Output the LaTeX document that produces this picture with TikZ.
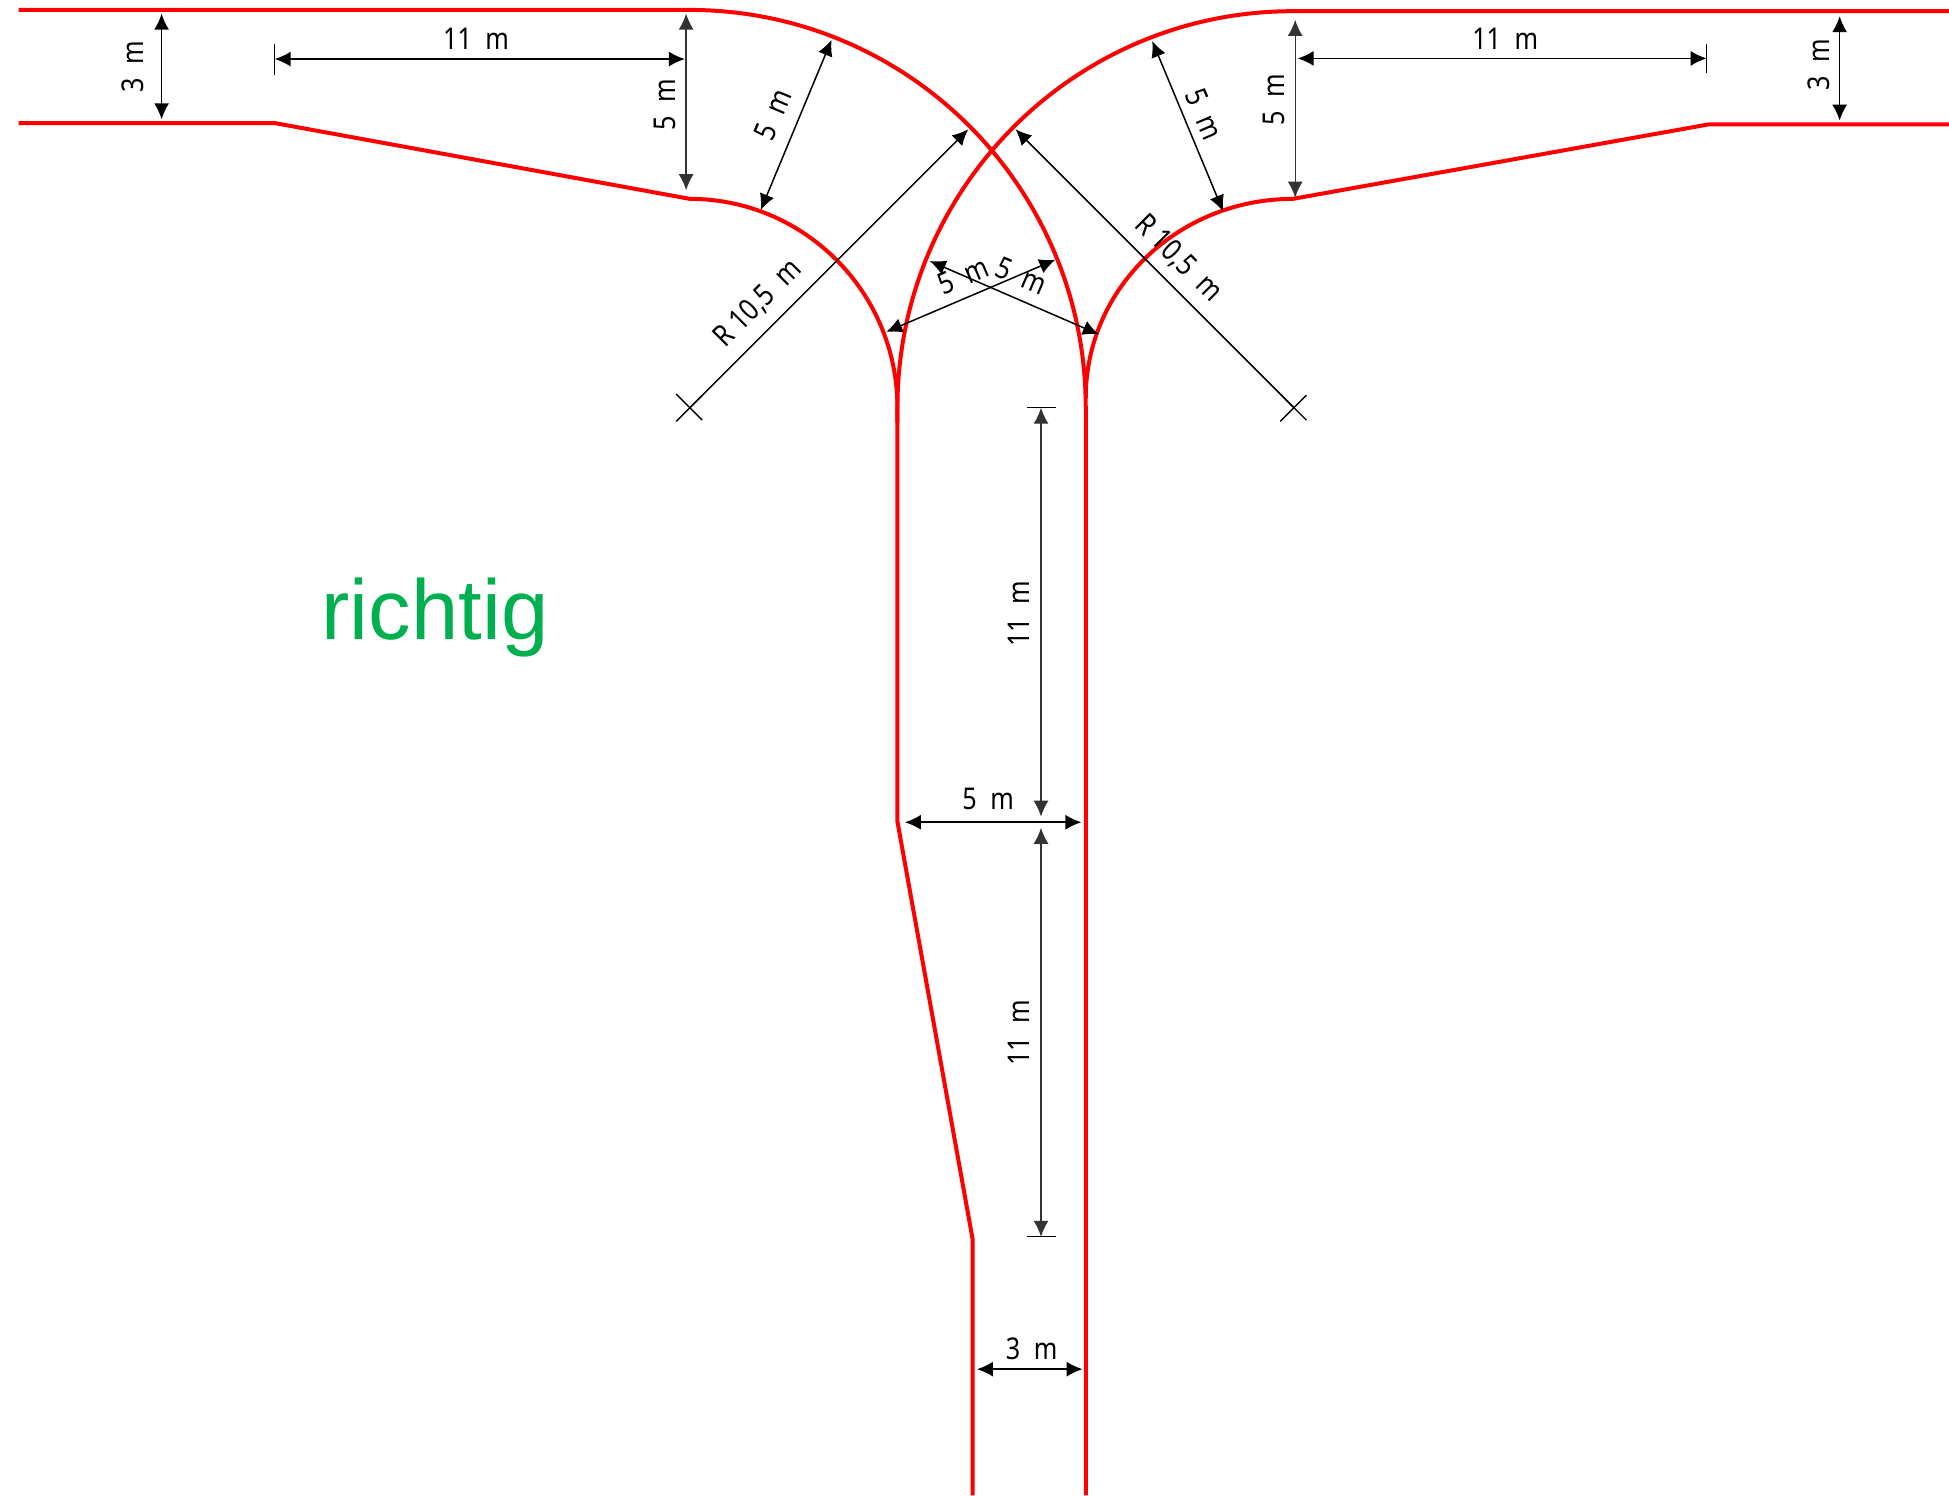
\documentclass[tikz,border=0pt]{standalone}
\usepackage{fontspec}
\setmainfont[FakeStretch=0.84]{Noto Sans}
\newfontfamily\richfont{Liberation Sans}
\usetikzlibrary{arrows.meta}
\definecolor{roadred}{RGB}{255,0,0}
\definecolor{okgreen}{RGB}{0,176,80}
\tikzset{
  x=0.6215pt,y=-0.6215pt,
  road/.style={draw=roadred,line width=2pt,line join=miter},
  dimline/.style={draw=black,line width=0.75pt,{Latex[length=8pt,width=7.5pt]}-{Latex[length=8pt,width=7.5pt]}},
  dimfine/.style={draw=black!80,line width=0.7pt,{Latex[length=8pt,width=7.5pt]}-{Latex[length=8pt,width=7.5pt]}},
  radiusline/.style={draw=black,line width=0.75pt,-{Latex[length=8pt,width=7.5pt]}},
  tick/.style={draw=black,line width=0.7pt},
  dimlabel/.style={inner sep=0pt,font=\fontsize{15}{16}\selectfont},
  verdict/.style={inner sep=0pt,text=okgreen,font=\richfont\fontsize{42.5}{44}\selectfont}
}
\newcommand{\mm}[1]{#1\hspace{0.45em}m}
\begin{document}
\begin{tikzpicture}
\useasboundingbox (0,0) rectangle (1568,1203);
% road edges
\path[road] (15,8) -- (555,8) arc (-90:0:318.5 and 320) -- (873.5,1203);
\path[road] (15,99) -- (221,99) -- (555,160) arc (-90:0:167 and 168) -- (722,661) -- (782.5,997) -- (782.5,1203);
\path[road] (1568,9) -- (1040,9) arc (-90:-180:318 and 319) -- (722,340);
\path[road] (1568,100) -- (1375,100) -- (1040,160) arc (-90:-180:166.5 and 160);
% end points of the dimension lines
\coordinate (a1) at (130,11);   \coordinate (a2) at (130,96);
\coordinate (b1) at (221,47.5); \coordinate (b2) at (551,47.5);
\coordinate (c1) at (552,11);   \coordinate (c2) at (552,153);
\coordinate (d1) at (669,32);   \coordinate (d2) at (612,169);
\coordinate (e1) at (555,328);  \coordinate (e2) at (779,104);
\coordinate (f1) at (1041,328); \coordinate (f2) at (817,104);
\coordinate (g1) at (713,267);  \coordinate (g2) at (849,209);
\coordinate (h1) at (748,210);  \coordinate (h2) at (884,269);
\coordinate (i1) at (927,33);   \coordinate (i2) at (984,170);
\coordinate (j1) at (1042,16);  \coordinate (j2) at (1042,159);
\coordinate (k1) at (1044,47);  \coordinate (k2) at (1373,47);
\coordinate (l1) at (1480,13);  \coordinate (l2) at (1480,97);
\coordinate (m1) at (837.5,328);\coordinate (m2) at (837.5,657);
\coordinate (n1) at (837.5,666);\coordinate (n2) at (837.5,995);
\coordinate (o1) at (728,661.5);\coordinate (o2) at (870,661.5);
\coordinate (p1) at (786,1101.5);\coordinate (p2) at (871,1101.5);
% dimension lines
\draw[dimline] (a1) -- (a2);
\draw[dimline] (b1) -- (b2);
\draw[dimfine] (c1) -- (c2);
\draw[dimline] (d1) -- (d2);
\draw[radiusline] (e1) -- (e2);
\draw[radiusline] (f1) -- (f2);
\draw[dimline] (g1) -- (g2);
\draw[dimline] (h1) -- (h2);
\draw[dimline] (i1) -- (i2);
\draw[dimfine] (j1) -- (j2);
\draw[dimline] (k1) -- (k2);
\draw[dimline] (l1) -- (l2);
\draw[dimfine] (m1) -- (m2);
\draw[dimfine] (n1) -- (n2);
\draw[dimline] (o1) -- (o2);
\draw[dimline] (p1) -- (p2);
% ticks and centre marks
\draw[tick] (b1) ++(0,-12) -- ++(0,25);
\draw[tick] (k2) ++(0,-12) -- ++(0,24);
\draw[tick] (m1) ++(-11,0) -- ++(23,0);
\draw[tick] (n2) ++(-11,0) -- ++(23,0);
\draw[tick] (e1) ++(-11,11) -- ++(21,-21);
\draw[tick] (e1) ++(-11,-11) -- ++(21,21);
\draw[tick] (f1) ++(-11,11) -- ++(21,-21);
\draw[tick] (f1) ++(-11,-11) -- ++(21,21);
% labels
\node[dimlabel,rotate=90] (la) at (107,54) {\mm{3}};
\node[dimlabel] (lb) at (383,31) {\mm{11}};
\node[dimlabel,rotate=90] (lc) at (535,84) {\mm{5}};
\node[dimlabel,rotate=67] (ld) at (622,92) {\mm{5}};
\node[dimlabel,rotate=45] (le) at (610,244) {R 10,5\hspace{0.45em}m};
\node[dimlabel,rotate=-45] (lf) at (948,208) {R 10,5\hspace{0.45em}m};
\node[dimlabel,rotate=23] (lg) at (775,222) {\mm{5}};
\node[dimlabel,rotate=-23] (lh) at (822,222) {\mm{5}};
\node[dimlabel,rotate=-67] (li) at (969,92) {\mm{5}};
\node[dimlabel,rotate=90] (lj) at (1025,80) {\mm{5}};
\node[dimlabel] (lk) at (1211,31) {\mm{11}};
\node[dimlabel,rotate=90] (ll) at (1463,52) {\mm{3}};
\node[dimlabel,rotate=90] (lm) at (820,494) {\mm{11}};
\node[dimlabel,rotate=90] (ln) at (820,831) {\mm{11}};
\node[dimlabel] (lo) at (795,643) {\mm{5}};
\node[dimlabel] (lp) at (830,1085) {\mm{3}};
\node[verdict] (rich) at (350,497) {richtig};
\end{tikzpicture}
\end{document}
